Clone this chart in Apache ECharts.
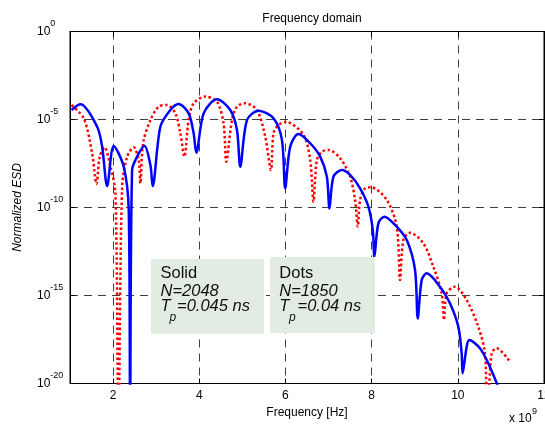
<!DOCTYPE html>
<html><head><meta charset="utf-8">
<script src="https://cdn.jsdelivr.net/npm/echarts@6/dist/echarts.min.js"></script>
<style>html,body{margin:0;padding:0;background:#fff}#c{width:545px;height:428px}</style>
</head><body><div id="c"></div>
<script>
// Tick values (frequency in units of 10^9 Hz)
const xTicks = [2, 4, 6, 8, 10, 12];

// Solid (blue) curve: N=2048, Tp=0.045 ns
const solidFreq = [1.035,1.243,1.630,1.746,1.862,2.015,2.247,2.363,2.395,2.441,2.557,2.727,2.866,2.919,3.097,3.329,3.521,3.753,3.869,3.932,4.101,4.411,4.720,4.875,4.951,5.107,5.375,5.723,5.918,5.994,6.110,6.302,6.574,6.806,6.961,7.021,7.114,7.308,7.500,7.732,7.925,8.027,8.064,8.156,8.296,8.544,8.815,9.007,9.070,9.162,9.278,9.586,9.818,10.011,10.089,10.112,10.205,10.265,10.513,10.706,10.923];
const solidESD = [3.47e-5,7.24e-5,3.89e-6,2.82e-7,1.66e-9,3.09e-7,2.09e-8,7.24e-11,1e-22,1.35e-8,7.76e-8,3.24e-7,2.57e-8,1.66e-9,3.89e-6,3.47e-5,7.59e-5,2.24e-5,1.66e-6,1.29e-7,2.24e-5,1.41e-4,3.47e-5,2.51e-6,2.09e-8,9.33e-6,3.16e-5,1.17e-5,6.92e-7,1.23e-9,2.82e-7,1.51e-6,4.47e-7,7.76e-8,5.62e-9,8.91e-11,5.62e-9,1.35e-8,7.08e-9,1.23e-9,1.12e-10,5.25e-12,1.58e-13,1.26e-11,3.02e-11,1.02e-11,1.41e-12,2.82e-14,5.01e-17,7.59e-15,1.82e-14,3.16e-15,3.63e-16,1.70e-17,5.25e-19,3.80e-20,1.23e-18,2.95e-18,1.0e-18,1.41e-19,7.94e-21];

// Dotted (red) curve: N=1850, Tp=0.04 ns
const dotsFreq = [1.035,1.320,1.514,1.614,1.691,1.800,1.939,2.054,2.124,2.210,2.326,2.479,2.594,2.634,2.696,2.866,3.058,3.253,3.445,3.561,3.654,3.753,3.869,4.140,4.411,4.564,4.627,4.759,4.875,5.067,5.338,5.531,5.663,5.723,5.839,6.017,6.418,6.574,6.650,6.729,6.845,6.998,7.269,7.501,7.616,7.679,7.732,7.848,7.987,8.351,8.583,8.659,8.736,8.891,9.199,9.431,9.626,9.679,9.742,9.934,10.205,10.474,10.629,10.682,10.784,10.900,11.208];
const dotsESD = [6.61e-5,1.17e-5,1.20e-7,2.19e-9,7.76e-8,2.63e-7,2.09e-8,6.46e-10,1e-22,1.51e-9,7.76e-8,2.63e-7,5.01e-8,2.34e-9,4.47e-7,9.33e-6,5.37e-5,6.61e-5,2.24e-5,1.66e-6,7.76e-8,9.33e-6,8.32e-5,2.00e-4,1.02e-4,6.03e-6,3.98e-8,9.33e-6,5.37e-5,8.32e-5,3.47e-5,1.05e-6,1.35e-8,1.66e-6,4.90e-6,7.24e-6,1.32e-6,5.01e-8,2.14e-10,5.01e-8,1.48e-7,1.86e-7,6.31e-8,5.62e-9,2.69e-10,8.13e-12,2.69e-10,1.23e-9,1.41e-9,2.69e-10,8.13e-12,7.59e-15,1.41e-12,3.72e-12,9.33e-13,4.37e-14,1.32e-15,4.07e-17,1.32e-15,3.16e-15,5.50e-16,1.70e-17,5.25e-19,1e-22,5.25e-19,1.0e-18,1.74e-19];

// Annotation texts
const boxSolid = ['Solid', 'N=2048', 'T', 'p', '=0.045 ns'];
const boxDots = ['Dots', 'N=1850', 'T', 'p', '=0.04 ns'];

const FONT = '"Liberation Sans", Arial, Helvetica, sans-serif';
const chart = echarts.init(document.getElementById('c'), null, {renderer: 'canvas'});

// Build [x, y] pairs; local minima (spectral nulls) are doubled so the smoothed line keeps a sharp cusp there
function pairs(xs, ys) {
  const out = [];
  for (let i = 0; i < xs.length; i++) {
    out.push([xs[i], ys[i]]);
    if (i > 0 && i < xs.length - 1 && ys[i] < ys[i - 1] && ys[i] < ys[i + 1]) out.push([xs[i], ys[i]]);
  }
  return out;
}

function box(x, y, w, h, t, tx, pX, restX) {
  const z = 100;
  const txt = (xx, yy, s, font) => ({type: 'text', z: z + 1, x: xx, y: yy,
    style: {text: s, font: font, fill: '#111', verticalAlign: 'middle'}});
  return {
    type: 'group', children: [
      {type: 'rect', z: z, shape: {x: x, y: y, width: w, height: h}, style: {fill: '#e3ece3'}},
      txt(tx, 273, t[0], '16.5px ' + FONT),
      txt(tx, 291.5, t[1], 'italic 16.5px ' + FONT),
      txt(tx, 306.5, t[2], 'italic 16.5px ' + FONT),
      txt(pX, 318, t[3], 'italic 12px ' + FONT),
      txt(restX, 306.5, t[4], 'italic 16.5px ' + FONT)
    ]
  };
}

const grid = {left: 70, right: 1, top: 31.5, bottom: 44.5, show: true, borderColor: '#000', borderWidth: 1, backgroundColor: 'transparent', outerBoundsMode: 'none', containLabel: false};

const yLabel = {
  margin: 33, align: 'left', color: '#000', fontFamily: FONT,
  formatter: function (v) { const e = Math.round(Math.log10(v)); return '{b|10}{s|' + e + '}'; },
  rich: {
    b: {fontSize: 12, fontFamily: FONT, color: '#000'},
    s: {fontSize: 9, fontFamily: FONT, color: '#000', padding: [0, 0, 15, 0]}
  }
};
const dashed = {show: true, lineStyle: {color: '#404040', width: 1, type: [8, 6]}};

chart.setOption({
  animation: false,
  backgroundColor: '#fff',
  title: {text: 'Frequency domain', left: 307, top: 8, textAlign: 'center',
    textStyle: {fontSize: 12, fontWeight: 'normal', color: '#000', fontFamily: FONT}},
  grid: grid,
  xAxis: [{
    type: 'value', min: 1, max: 12, position: 'bottom',
    name: 'Frequency [Hz]', nameLocation: 'middle', nameGap: 21,
    nameTextStyle: {fontSize: 12, color: '#000', fontFamily: FONT},
    axisLine: {show: true, onZero: false, lineStyle: {color: '#000', width: 1}},
    axisTick: {show: true, inside: true, length: 5, customValues: xTicks, lineStyle: {color: '#000'}},
    axisLabel: {show: true, margin: 6, fontSize: 12, color: '#000', fontFamily: FONT, customValues: xTicks, showMinLabel: true, showMaxLabel: true},
    splitLine: dashed
  }, {
    type: 'value', min: 1, max: 12, position: 'top',
    axisLine: {show: true, onZero: false, lineStyle: {color: '#000', width: 1}},
    axisTick: {show: true, inside: true, length: 5, customValues: xTicks, lineStyle: {color: '#000'}},
    axisLabel: {show: false}, splitLine: {show: false}
  }],
  yAxis: [{
    type: 'log', logBase: 10, min: 1e-20, max: 1, interval: 5, position: 'left',
    name: 'Normalized ESD', nameLocation: 'middle', nameGap: 46,
    nameTextStyle: {fontSize: 12, fontStyle: 'italic', color: '#000', fontFamily: FONT},
    axisLine: {show: true, onZero: false, lineStyle: {color: '#000', width: 1}},
    axisTick: {show: true, inside: true, length: 5, lineStyle: {color: '#000'}},
    axisLabel: yLabel,
    minorTick: {show: false},
    splitLine: dashed
  }, {
    type: 'log', logBase: 10, min: 1e-20, max: 1, interval: 5, position: 'right',
    axisLine: {show: true, onZero: false, lineStyle: {color: '#000', width: 1}},
    axisTick: {show: true, inside: true, length: 5, lineStyle: {color: '#000'}},
    axisLabel: {show: false}, splitLine: {show: false}
  }],
  series: [{
    name: 'Dots', type: 'line', xAxisIndex: 0, yAxisIndex: 0, showSymbol: false, clip: true, z: 3,
    smooth: 0.3,
    data: pairs(dotsFreq, dotsESD),
    lineStyle: {color: '#ff0000', width: 2.5, type: [2.5, 2.5]}
  }, {
    name: 'Solid', type: 'line', xAxisIndex: 0, yAxisIndex: 0, showSymbol: false, clip: true, z: 4,
    smooth: 0.3,
    data: pairs(solidFreq, solidESD),
    lineStyle: {color: '#0000ff', width: 2.5}
  }],
  graphic: [
    box(151, 259, 113, 75, boxSolid, 160.5, 169.5, 177),
    box(270, 257, 105, 76, boxDots, 279.3, 289, 297.5),
    {type: 'text', x: 509, y: 419, style: {text: 'x 10', font: '12px ' + FONT, fill: '#000', verticalAlign: 'middle'}},
    {type: 'text', x: 532, y: 412, style: {text: '9', font: '9px ' + FONT, fill: '#000', verticalAlign: 'middle'}}
  ]
});
</script>
</body></html>
